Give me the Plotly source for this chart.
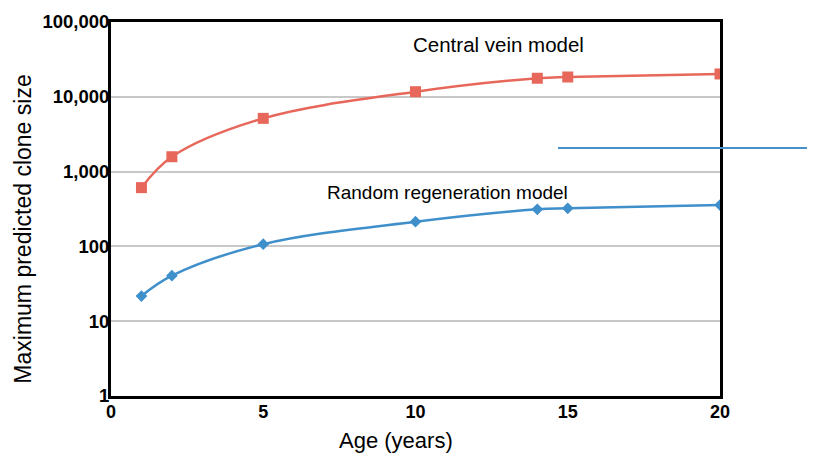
import plotly.graph_objects as go

# Data
age = [1, 2, 5, 10, 14, 15, 20]
central_vein = [610, 1580, 5150, 11700, 17700, 18400, 20200]
random_regen = [21.7, 40.6, 107, 214, 313, 323, 357]

y_tickvals = [1, 10, 100, 1000, 10000, 100000]
y_ticktext = ["1", "10", "100", "1,000", "10,000", "100,000"]
x_tickvals = [0, 5, 10, 15, 20]

RED = "#E8675B"
BLUE = "#3F8FCB"
FONT = "Liberation Sans, Arial, Helvetica"

fig = go.Figure()
fig.add_trace(go.Scatter(
    x=age, y=central_vein, mode="lines+markers",
    line=dict(color=RED, width=2.5, shape="spline", smoothing=1),
    marker=dict(symbol="square", size=11, color=RED),
    showlegend=False, name="Central vein model"))
fig.add_trace(go.Scatter(
    x=age, y=random_regen, mode="lines+markers",
    line=dict(color=BLUE, width=2.5, shape="spline", smoothing=1),
    marker=dict(symbol="diamond", size=9, color=BLUE),
    showlegend=False, name="Random regeneration model"))

fig.add_annotation(x=0.636, y=0.940, xref="paper", yref="paper",
                   xanchor="center", yanchor="middle",
                   text="Central vein model", showarrow=False,
                   font=dict(family=FONT, size=20.5, color="black"))
fig.add_annotation(x=0.5525, y=0.545, xref="paper", yref="paper",
                   xanchor="center", yanchor="middle",
                   text="Random regeneration model", showarrow=False,
                   font=dict(family=FONT, size=19, color="black"))

# axis titles (placed off-centre as in the reference)
fig.add_annotation(x=0.468, y=-0.118, xref="paper", yref="paper",
                   xanchor="center", yanchor="middle",
                   text="Age (years)", showarrow=False,
                   font=dict(family=FONT, size=22, color="black"))
fig.add_annotation(x=-0.146, y=0.445, xref="paper", yref="paper",
                   xanchor="center", yanchor="middle", textangle=-90,
                   text="Maximum predicted clone size", showarrow=False,
                   font=dict(family=FONT, size=23, color="black"))

fig.add_shape(type="line", xref="paper", yref="paper",
              x0=0.734, x1=1.17, y0=0.663, y1=0.663,
              line=dict(color="#4A90C8", width=2))

fig.update_xaxes(
    range=[0, 20], tickvals=x_tickvals, showgrid=False, zeroline=False,
    showline=True, linecolor="black", linewidth=3, mirror=True, automargin=False,
    ticks="", ticklabelstandoff=-3,
    tickfont=dict(family=FONT, size=18, color="black", weight="bold"))
fig.update_yaxes(
    type="log", range=[0, 5], tickvals=y_tickvals, ticktext=y_ticktext,
    showgrid=True, gridcolor="#C8C8C8", gridwidth=1.5, zeroline=False,
    showline=True, linecolor="black", linewidth=3, mirror=True, automargin=False,
    ticks="", ticklabelstandoff=-5,
    tickfont=dict(family=FONT, size=18.5, color="black", weight="bold"))

fig.update_layout(
    width=815, height=455,
    margin=dict(l=103, r=103, t=14, b=67),
    plot_bgcolor="white", paper_bgcolor="white",
)

fig.write_html("out.html")
